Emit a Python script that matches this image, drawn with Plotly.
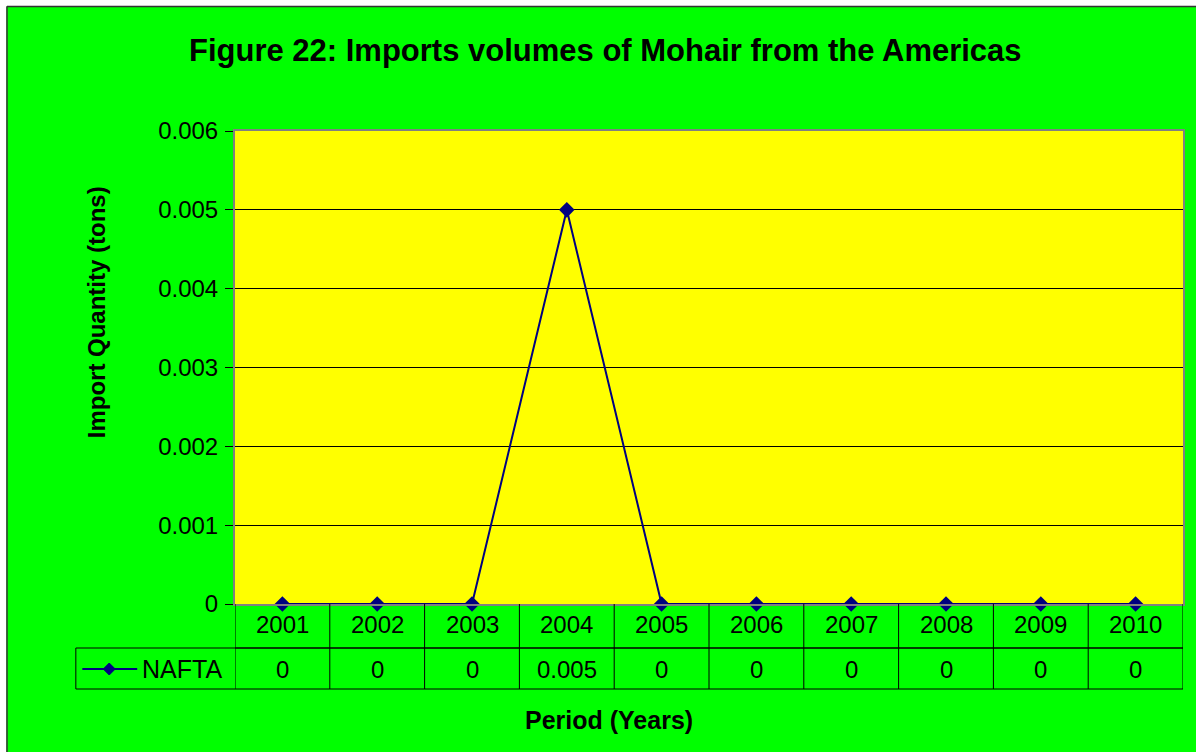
import plotly.graph_objects as go

years = ["2001", "2002", "2003", "2004", "2005", "2006", "2007", "2008", "2009", "2010"]
nafta = [0, 0, 0, 0.005, 0, 0, 0, 0, 0, 0]
nafta_labels = ["0", "0", "0", "0.005", "0", "0", "0", "0", "0", "0"]
series_name = "NAFTA"
y_ticks = [0, 0.001, 0.002, 0.003, 0.004, 0.005, 0.006]
y_tick_text = ["0", "0.001", "0.002", "0.003", "0.004", "0.005", "0.006"]

W, H = 1196, 752
L, R, T, B = 235, 1185, 131, 604
ph = B - T
pw = R - L

def py(p):
    return (B - p) / ph

def px(p):
    return (p - L) / pw

FONT = "Liberation Sans, Arial, sans-serif"
NAVY = "#000080"
FS = 24

fig = go.Figure()
fig.add_trace(go.Scatter(
    x=list(range(len(years))), y=nafta, mode="lines+markers",
    line=dict(color=NAVY, width=2),
    marker=dict(symbol="diamond", size=12, color=NAVY),
    name=series_name, showlegend=False, cliponaxis=False,
))

shapes = []
# white page margin outside the chart frame, and the frame border
shapes.append(dict(type="rect", xref="paper", yref="paper", x0=px(-10), x1=px(1210), y0=py(6), y1=py(-10),
                   fillcolor="#FFFFFF", line=dict(width=0), layer="below"))
shapes.append(dict(type="rect", xref="paper", yref="paper", x0=px(-10), x1=px(6), y0=py(770), y1=py(-10),
                   fillcolor="#FFFFFF", line=dict(width=0), layer="below"))
shapes.append(dict(type="line", xref="paper", yref="paper", x0=px(6.5), x1=px(1210), y0=py(6.5), y1=py(6.5),
                   line=dict(color="#333333", width=1.5)))
shapes.append(dict(type="line", xref="paper", yref="paper", x0=px(6.5), x1=px(6.5), y0=py(770), y1=py(6.5),
                   line=dict(color="#333333", width=1.5)))

row1 = py(648)
row2 = py(689)
lc = "#000000"
shapes.append(dict(type="line", xref="x", yref="paper", x0=-0.5, x1=len(years) - 0.5, y0=row1, y1=row1, line=dict(color=lc, width=1)))
shapes.append(dict(type="line", xref="paper", yref="paper", x0=px(75.5), x1=1, y0=row1, y1=row1, line=dict(color=lc, width=1)))
shapes.append(dict(type="line", xref="paper", yref="paper", x0=px(75.5), x1=1, y0=row2, y1=row2, line=dict(color=lc, width=1)))
shapes.append(dict(type="line", xref="paper", yref="paper", x0=px(75.5), x1=px(75.5), y0=row1, y1=row2, line=dict(color=lc, width=1)))
for i in range(len(years) + 1):
    shapes.append(dict(type="line", xref="x", yref="paper", x0=i - 0.5, x1=i - 0.5, y0=0, y1=row2, line=dict(color=lc, width=1)))

# legend key in the table
ky = py(669)
shapes.append(dict(type="line", xref="paper", yref="paper", x0=px(82), x1=px(137), y0=ky, y1=ky,
                   line=dict(color=NAVY, width=2)))
shapes.append(dict(type="path", xref="paper", yref="paper", xsizemode="pixel", ysizemode="pixel",
                   xanchor=px(109), yanchor=ky, path="M0,6 L6,0 L0,-6 L-6,0 Z",
                   fillcolor=NAVY, line=dict(color=NAVY, width=1)))

annotations = []
for i, (yr, v) in enumerate(zip(years, nafta_labels)):
    annotations.append(dict(x=i, y=py(624.5), xref="x", yref="paper", text=yr, showarrow=False,
                            font=dict(family=FONT, size=FS, color="black"), yanchor="middle"))
    annotations.append(dict(x=i, y=py(669), xref="x", yref="paper", text=v, showarrow=False,
                            font=dict(family=FONT, size=FS, color="black"), yanchor="middle"))
annotations.append(dict(x=px(224), y=py(669), xref="paper", yref="paper", text=series_name,
                        showarrow=False, xanchor="right", yanchor="middle",
                        font=dict(family=FONT, size=25, color="black")))
annotations.append(dict(x=px(610), y=py(720), xref="paper", yref="paper", text="<b>Period (Years)</b>",
                        showarrow=False, yanchor="middle", font=dict(family=FONT, size=25, color="black")))
annotations.append(dict(x=px(96), y=py(312), xref="paper", yref="paper", text="<b>Import Quantity (tons)</b>",
                        showarrow=False, textangle=-90, xanchor="center", yanchor="middle",
                        font=dict(family=FONT, size=24, color="black")))
annotations.append(dict(x=px(606), y=py(50), xref="paper", yref="paper",
                        text="<b>Figure 22: Imports volumes of Mohair from the Americas</b>",
                        showarrow=False, yanchor="middle", font=dict(family=FONT, size=31, color="black")))

fig.update_layout(
    width=W, height=H,
    margin=dict(l=L, r=W - R, t=T, b=H - B, pad=0),
    paper_bgcolor="#00FF00", plot_bgcolor="#FFFF00",
    xaxis=dict(range=[-0.5, len(years) - 0.5], showticklabels=False, showgrid=False, zeroline=False,
               showline=True, linecolor="#808080", linewidth=2, mirror=True, ticks=""),
    yaxis=dict(range=[0, 0.006], tickvals=y_ticks, ticktext=y_tick_text, showgrid=True, gridcolor="#000000",
               gridwidth=1, zeroline=False, showline=True, linecolor="#808080", linewidth=2, mirror=True,
               ticks="outside", ticklen=8, tickcolor="#000000", ticklabelstandoff=2,
               tickfont=dict(family=FONT, size=FS, color="black")),
    shapes=shapes, annotations=annotations, showlegend=False,
)

fig.write_html("out.html", config={"displayModeBar": False},
               post_script="document.body.style.margin='0';document.body.style.overflow='hidden';")
